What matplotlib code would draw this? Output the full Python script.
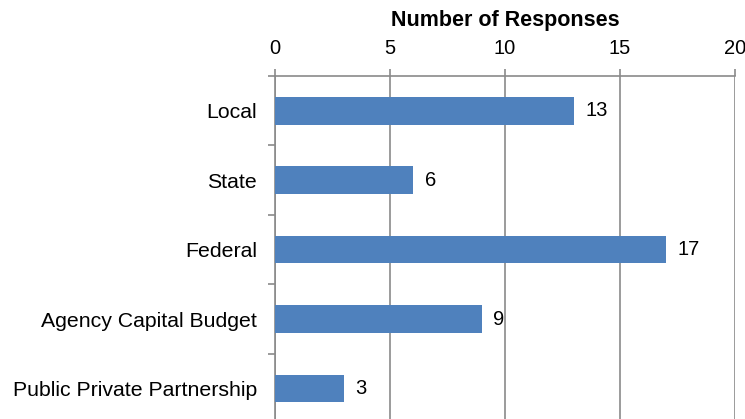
import matplotlib.pyplot as plt
import numpy as np

categories = ["Local", "State", "Federal", "Agency Capital Budget", "Public Private Partnership"]
responses = [13, 6, 17, 9, 3]
x_ticks = [0, 5, 10, 15, 20]

plt.rcParams['font.family'] = ['Liberation Sans', 'DejaVu Sans']

fig = plt.figure(figsize=(7.45, 4.19), dpi=100)
ax = fig.add_axes([275 / 745, 0, 460 / 745, (419 - 76) / 419])

y = np.arange(len(categories))
bars = ax.barh(y, responses, height=0.4, color="#4F81BD", zorder=3)

# value labels right of the bars
for yi, v in zip(y, responses):
    ax.text(v + 0.5, yi, str(v), va="center", ha="left", fontsize=14.5)

ax.set_xlim(0, 20)
ax.set_ylim(4.44, -0.5)

grid_color = "#8a8a8a"
ax.xaxis.tick_top()
ax.xaxis.set_label_position("top")
ax.set_xticks(x_ticks)
ax.set_xticklabels([str(t) for t in x_ticks], fontsize=14.5)
ax.tick_params(axis="x", length=5, width=1.2, color=grid_color, pad=8)
ax.set_xlabel("Number of Responses", fontsize=15.5, fontweight="bold", labelpad=9)
ax.grid(axis="x", color=grid_color, linewidth=1.2, zorder=0)

ax.set_yticks(y)
ax.set_yticklabels(categories, fontsize=15.3)
# separator ticks between categories (last one falls below the figure)
ax.set_yticks(np.arange(-0.5, len(categories) - 1, 1.0), minor=True)
ax.tick_params(axis="y", which="major", length=0, pad=13)
ax.tick_params(axis="y", which="minor", length=5, width=1.2, color=grid_color)

for side in ["right", "bottom"]:
    ax.spines[side].set_visible(False)
for side in ["left", "top"]:
    ax.spines[side].set_color(grid_color)
    ax.spines[side].set_linewidth(1.2)

plt.savefig("out.png", dpi=100)
